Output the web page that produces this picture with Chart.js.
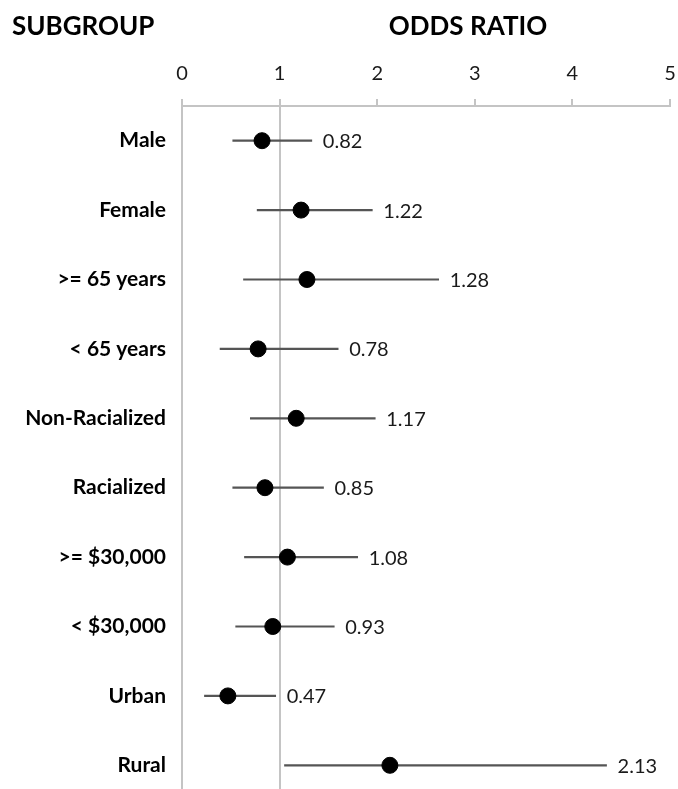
<!DOCTYPE html>
<html>
<head>
<meta charset="utf-8">
<script src="https://cdn.jsdelivr.net/npm/chart.js@4.4.1/dist/chart.umd.min.js"></script>
<style>
  html, body { margin: 0; padding: 0; background: #fff; overflow: hidden; }
  canvas { display: block; }
</style>
</head>
<body>
<canvas id="forest" width="678" height="800"></canvas>
<script>
const subgroups = ['Male', 'Female', '>= 65 years', '< 65 years', 'Non-Racialized', 'Racialized', '>= $30,000', '< $30,000', 'Urban', 'Rural'];
const oddsRatios = [0.82, 1.22, 1.28, 0.78, 1.17, 0.85, 1.08, 0.93, 0.47, 2.13];
const ciLower = [0.52, 0.77, 0.63, 0.39, 0.70, 0.52, 0.64, 0.55, 0.23, 1.05];
const ciUpper = [1.33, 1.95, 2.63, 1.60, 1.98, 1.45, 1.80, 1.56, 0.96, 4.35];
const xTicks = [0, 1, 2, 3, 4, 5];

const fontName = 'Lato, "Open Sans", sans-serif';
const lineGray = '#c4c4c4';

// headers + OR value labels
const extraText = {
    id: 'extraText',
    afterDatasetsDraw(chart) {
        const { ctx, scales } = chart;
        ctx.save();
        ctx.fillStyle = '#1a1a1a';
        ctx.font = '20px ' + fontName;
        ctx.textAlign = 'left';
        ctx.textBaseline = 'middle';
        oddsRatios.forEach((v, i) => {
            const x = scales.x.getPixelForValue(ciUpper[i]) + 11;
            const y = scales.y.getPixelForValue(i);
            ctx.fillText(v.toFixed(2), x, y + 1);
        });
        ctx.fillStyle = '#000';
        ctx.font = 'bold 26px ' + fontName;
        ctx.fillText('SUBGROUP', 12, 27);
        ctx.textAlign = 'center';
        ctx.fillText('ODDS RATIO', 468, 27);
        ctx.restore();
    }
};

new Chart(document.getElementById('forest'), {
    type: 'bar',
    data: {
        labels: subgroups,
        datasets: [
            {
                type: 'line',
                indexAxis: 'y',
                data: oddsRatios,
                showLine: false,
                pointRadius: 8,
                pointHoverRadius: 8,
                pointBackgroundColor: '#000',
                pointBorderColor: '#000',
                order: 0
            },
            {
                data: subgroups.map((_, i) => [ciLower[i], ciUpper[i]]),
                backgroundColor: '#555',
                barThickness: 1.5,
                order: 1
            }
        ]
    },
    options: {
        indexAxis: 'y',
        responsive: false,
        animation: false,
        layout: { autoPadding: false, padding: { top: 0, left: 0, right: 8, bottom: 0 } },
        plugins: { legend: { display: false }, tooltip: { enabled: false } },
        scales: {
            x: {
                type: 'linear',
                position: 'top',
                min: 0,
                max: 5,
                afterBuildTicks: s => { s.ticks = xTicks.map(v => ({ value: v })); },
                afterFit: s => { s.height = 106; s.paddingLeft = 0; s.paddingRight = 0; },
                ticks: { color: '#1a1a1a', padding: 13, font: { family: fontName, size: 20 } },
                border: { color: lineGray, width: 2 },
                grid: {
                    tickLength: 7,
                    tickColor: lineGray,
                    lineWidth: 2,
                    color: c => (c.tick && c.tick.value === 1) ? lineGray : 'transparent'
                }
            },
            y: {
                type: 'category',
                afterFit: s => { s.width = 182; s.paddingTop = 0; s.paddingBottom = 0; },
                ticks: { color: '#000', padding: 16, font: { family: fontName, size: 21, weight: 'bold' } },
                border: { color: lineGray, width: 2 },
                grid: { display: false, drawTicks: false }
            }
        }
    },
    plugins: [extraText]
});
</script>
</body>
</html>
